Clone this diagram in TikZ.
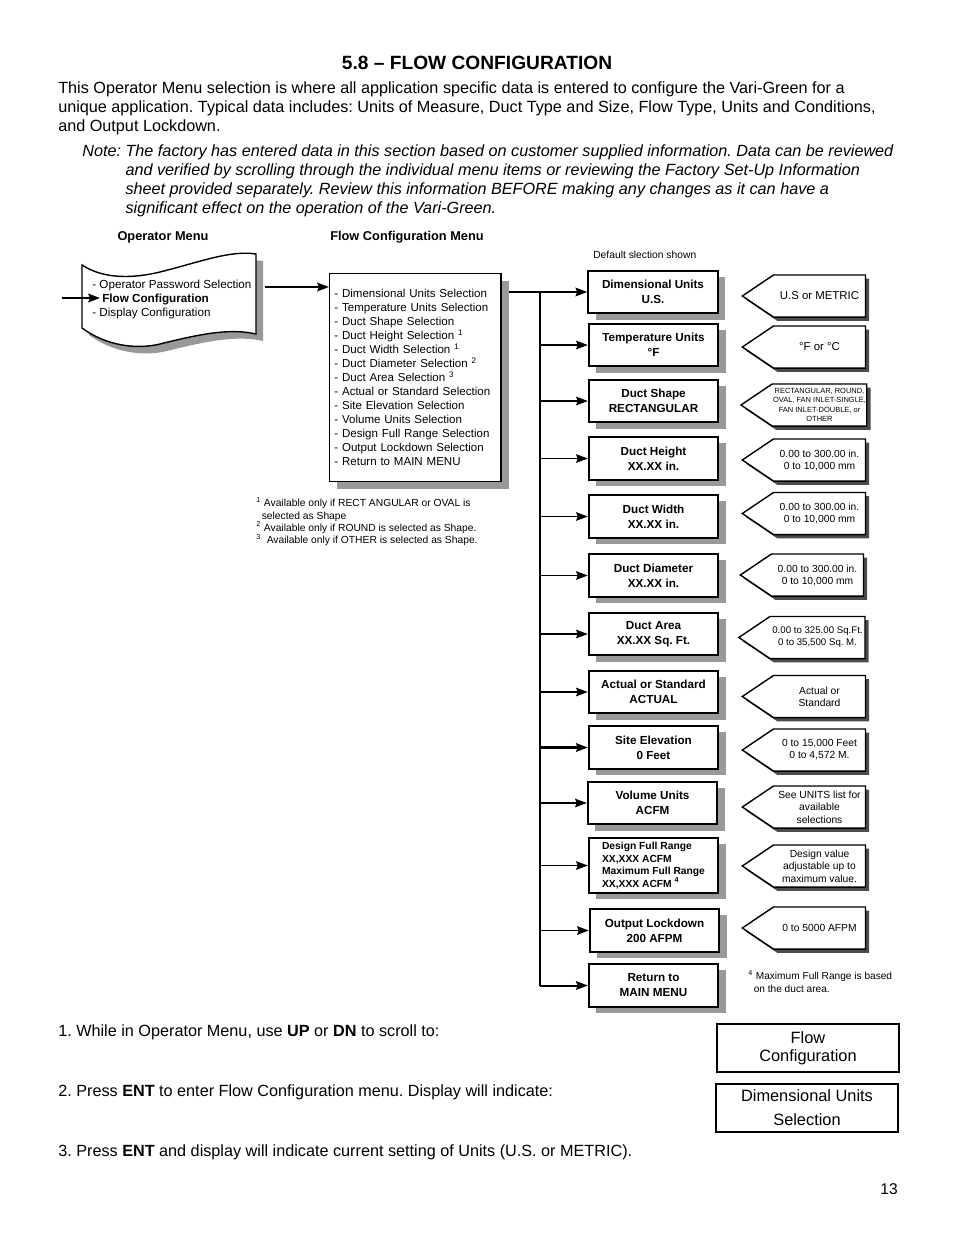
\documentclass[tikz,border=0pt]{standalone}
\usepackage{fontspec}
\setmainfont{Liberation Sans}
\usetikzlibrary{positioning,arrows.meta,shapes.symbols,shadows,calc}
\frenchspacing

\begin{document}
\begin{tikzpicture}[
  x=0.6415pt, y=-0.6415pt,
  font=\fontsize{7.5}{9}\selectfont,
  txt/.style={inner sep=0pt, align=left},
  body/.style={txt, anchor=north west, font=\fontsize{10.4}{12.2}\selectfont},
  menubox/.style={draw, line width=0.9pt, fill=white,
    general shadow={fill=black!40, shadow xshift=5pt, shadow yshift=-4.5pt}},
  valbox/.style={draw, line width=1.3pt, fill=white, minimum width=83pt,
    minimum height=27.5pt, inner sep=2pt, align=center,
    font=\bfseries\fontsize{7.5}{9.6}\selectfont,
    general shadow={fill=black!40, shadow xshift=4.8pt, shadow yshift=-4pt}},
  choice/.style={signal, signal to=west, signal pointer angle=68, draw,
    line width=0.9pt, fill=white, minimum width=79pt, minimum height=27pt,
    inner sep=1.5pt, align=center, font=\fontsize{6.6}{7.7}\selectfont,
    general shadow={fill=black!70, shadow xshift=2.4pt, shadow yshift=-2.4pt}},
  disp/.style={draw, line width=1.3pt, minimum width=116.5pt,
    minimum height=30.8pt, align=center},
  opshape/.style={insert path={(82,265) .. controls (105,280) and (135,278) .. (160,272)
    .. controls (200,262) and (230,250) .. (256,254) -- (256,334)
    .. controls (230,328) and (200,334) .. (160,344)
    .. controls (135,350) and (105,345) .. (82,328) -- cycle}},
  bus/.style={line width=1.3pt},
  arr/.style={-{Stealth[length=7.5pt,width=5.5pt,inset=1pt]}, line width=0.75pt},
  tarr/.style={arr, line width=1.3pt}]

\fill[white] (0,0) rectangle (954,1235);
\useasboundingbox (0,0) rectangle (954,1235);

% heading and text
\node[font=\bfseries\fontsize{12.3}{14}\selectfont, anchor=base] (title) at (477,69)
  {5.8 -- FLOW CONFIGURATION};
\node[body] (intro) at (58,81)
  {This Operator Menu selection is where all application specific data is entered to configure the Vari-Green for a\\
   unique application. Typical data includes: Units of Measure, Duct Type and Size, Flow Type, Units and Conditions,\\
   and Output Lockdown.};
\node[body, font=\itshape\fontsize{10.4}{12.2}\selectfont] (note) at (82,144)
  {Note: The factory has entered data in this section based on customer supplied information. Data can be reviewed\\
   \phantom{Note:\ }and verified by scrolling through the individual menu items or reviewing the Factory Set-Up Information\\
   \phantom{Note:\ }sheet provided separately. Review this information BEFORE making any changes as it can have a\\
   \phantom{Note:\ }significant effect on the operation of the Vari-Green.};

% column headings
\node[font=\bfseries\fontsize{8.2}{10}\selectfont] (ophead) at (163,237) {Operator Menu};
\node[font=\bfseries\fontsize{8.2}{10}\selectfont] (flowhead) at (407,237) {Flow Configuration Menu};
\node[txt, anchor=west, font=\fontsize{6.6}{8}\selectfont] (deflt) at (593,255) {Default slection shown};

% operator menu
\fill[black!40, shift={(7,7)}, opshape];
\draw[line width=0.9pt, fill=white, opshape];
\node[txt, anchor=west] (opmenu) at (92,299)
  {- Operator Password Selection\\ \hspace*{6.4pt}\textbf{Flow Configuration}\\- Display Configuration};
\coordinate (opin) at (62,298);
\coordinate (optip) at (100,298);
\coordinate (opout) at (265,287);
\draw[tarr] (opin) -- (optip);

% flow configuration menu
\node[menubox, anchor=north west, minimum height=133.4pt, text width=104pt,
  inner xsep=3pt, align=left, font=\fontsize{7.4}{9}\selectfont] (flowmenu) at (329,273)
  {- Dimensional Units Selection\\
   - Temperature Units Selection\\
   - Duct Shape Selection\\
   - Duct Height Selection \textsuperscript{1}\\
   - Duct Width Selection \textsuperscript{1}\\
   - Duct Diameter Selection \textsuperscript{2}\\
   - Duct Area Selection \textsuperscript{3}\\
   - Actual or Standard Selection\\
   - Site Elevation Selection\\
   - Volume Units Selection\\
   - Design Full Range Selection\\
   - Output Lockdown Selection\\
   - Return to MAIN MENU};
\draw[tarr] (opout) -- (opout -| flowmenu.west);
\node[txt, anchor=north west, font=\fontsize{6.6}{7.9}\selectfont] (fnotes) at (256,497)
  {\textsuperscript{1} Available only if RECT ANGULAR or OVAL is\\
   \hspace*{3.5pt}selected as Shape\\
   \textsuperscript{2} Available only if ROUND is selected as Shape.\\
   \textsuperscript{3}\ \ Available only if OTHER is selected as Shape.};

% menu items, default shown
\node[valbox] (dimu) at (653,292) {Dimensional Units\\U.S.};
\node[valbox] (tempu) at (653.5,345) {Temperature Units\\°F};
\node[valbox] (dshape) at (653.5,401) {Duct Shape\\RECTANGULAR};
\node[valbox] (dheight) at (653.5,458.5) {Duct Height\\XX.XX in.};
\node[valbox] (dwidth) at (653.5,516.5) {Duct Width\\XX.XX in.};
\node[valbox] (diam) at (653.5,575.5) {Duct Diameter\\XX.XX in.};
\node[valbox] (area) at (653.5,634) {Duct Area\\XX.XX Sq. Ft.};
\node[valbox] (actual) at (653.5,692) {Actual or Standard\\ACTUAL};
\node[valbox] (site) at (653.5,747.5) {Site Elevation\\0 Feet};
\node[valbox] (volu) at (652.5,803) {Volume Units\\ACFM};
\node[valbox, minimum height=35pt, align=left, font=\bfseries\fontsize{6.6}{8}\selectfont]
  (range) at (653.5,865.5)
  {Design Full Range\\XX,XXX ACFM\\Maximum Full Range\\XX,XXX ACFM \textsuperscript{4}};
\node[valbox] (lockd) at (654.5,930.5) {Output Lockdown\\200 AFPM};
\node[valbox] (ret) at (653.5,985.5) {Return to\\MAIN MENU};

% choices
\node[choice, font=\fontsize{7.3}{8.5}\selectfont] (c1) at (819.5,296) {U.S or METRIC};
\node[choice, font=\fontsize{7.3}{8.5}\selectfont] (c2) at (819.5,347) {°F or °C};
\node[choice, inner xsep=0.5pt, font=\fontsize{4.8}{6}\selectfont] (c3) at (819.5,405)
  {RECTANGULAR, ROUND,\\OVAL, FAN INLET-SINGLE,\\FAN INLET-DOUBLE, or\\OTHER};
\node[choice] (c4) at (819.5,460) {0.00 to 300.00 in.\\0 to 10,000 mm};
\node[choice] (c5) at (819.5,513.5) {0.00 to 300.00 in.\\0 to 10,000 mm};
\node[choice] (c6) at (817.5,575) {0.00 to 300.00 in.\\0 to 10,000 mm};
\node[choice, font=\fontsize{6.2}{7.7}\selectfont] (c7) at (817.5,637.5)
  {0.00 to 325.00 Sq.Ft.\\0 to 35,500 Sq. M.};
\node[choice] (c8) at (819.5,696.5) {Actual or\\Standard};
\node[choice] (c9) at (819.5,750) {0 to 15,000 Feet\\0 to 4,572 M.};
\node[choice, font=\fontsize{6.6}{8}\selectfont] (c10) at (819.5,807)
  {See UNITS list for\\available\\selections};
\node[choice, font=\fontsize{6.6}{8}\selectfont] (c11) at (819.5,866)
  {Design value\\adjustable up to\\maximum value.};
\node[choice] (c12) at (819.5,928) {0 to 5000 AFPM};
\node[txt, anchor=north west, font=\fontsize{6.5}{8.3}\selectfont] (fn4) at (748,970)
  {\textsuperscript{4} Maximum Full Range is based\\ \hspace*{3.5pt}on the duct area.};

% bus and branches
\coordinate (bus) at (540,0);
\draw[tarr] ([xshift=4.8pt]flowmenu.east |- dimu.west) -- (dimu.west);
\draw[bus] (bus |- dimu.west) -- (bus |- ret.west);
\foreach \b in {tempu,dshape,dheight,dwidth,diam,area,actual,volu,range,lockd}
  \draw[arr] (bus |- \b.west) -- (\b.west);
\foreach \b in {site,ret} \draw[tarr] (bus |- \b.west) -- (\b.west);

% steps
\node[body] (step1) at (58,1024)
  {1. While in Operator Menu, use \textbf{UP} or \textbf{DN} to scroll to:};
\node[body] (step2) at (58,1084)
  {2. Press \textbf{ENT} to enter Flow Configuration menu. Display will indicate:};
\node[body] (step3) at (58,1144)
  {3. Press \textbf{ENT} and display will indicate current setting of Units (U.S. or METRIC).};
\node[disp, font=\fontsize{10.5}{11.5}\selectfont] (dispA) at (808,1048) {Flow\\Configuration};
\node[disp, font=\fontsize{10.5}{15.4}\selectfont] (dispB) at (807,1108) {Dimensional Units\\Selection};
\node[font=\fontsize{10}{12}\selectfont] (pgnum) at (889,1189) {13};
\end{tikzpicture}
\end{document}
